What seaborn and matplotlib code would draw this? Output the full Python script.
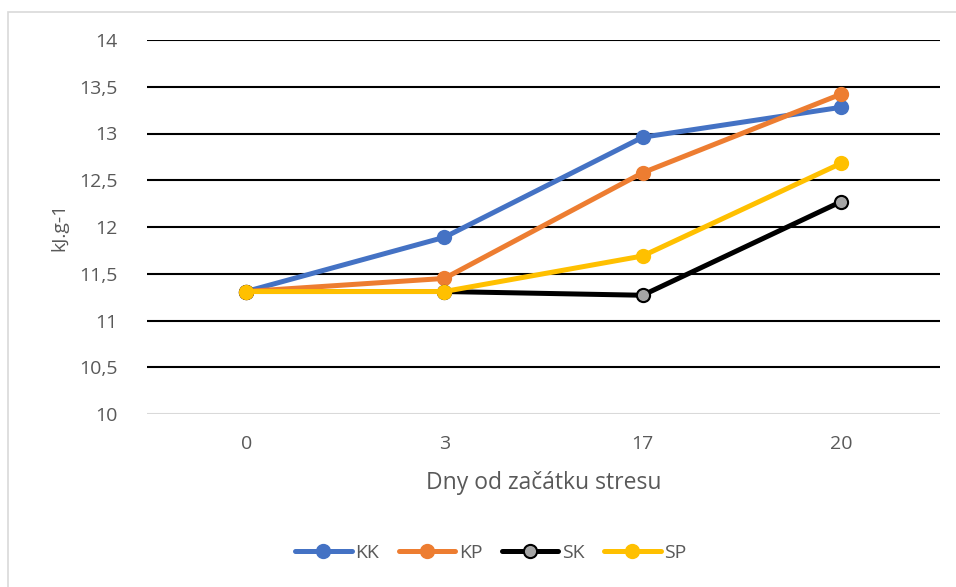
import matplotlib
matplotlib.use("Agg")
import matplotlib.pyplot as plt
from matplotlib.patches import Rectangle
from matplotlib.lines import Line2D
import seaborn as sns
import pandas as pd

days = ["0", "3", "17", "20"]
KK = [11.31, 11.89, 12.96, 13.28]
KP = [11.31, 11.45, 12.58, 13.42]
SK = [11.31, 11.31, 11.27, 12.27]
SP = [11.31, 11.31, 11.69, 12.68]

series = {"KK": KK, "KP": KP, "SK": SK, "SP": SP}
colors = {"KK": "#4472C4", "KP": "#ED7D31", "SK": "#000000", "SP": "#FFC000"}
marker_fill = {"KK": "#4472C4", "KP": "#ED7D31", "SK": "#A5A5A5", "SP": "#FFC000"}

rows = []
for name, vals in series.items():
    for i, v in enumerate(vals):
        rows.append({"pos": i, "day": days[i], "series": name, "value": v})
df = pd.DataFrame(rows)

sns.set_theme(style="white")
plt.rcParams["font.family"] = ["Open Sans", "DejaVu Sans"]

fig = plt.figure(figsize=(9.56, 5.87), dpi=100)
ax = fig.add_axes([147 / 956, 1 - 414 / 587, (940 - 147) / 956, (414 - 40) / 587])

for name in series:
    sub = df[df["series"] == name]
    sns.lineplot(data=sub, x="pos", y="value", ax=ax, color=colors[name],
                 linewidth=3.6, marker="o", markersize=9.5,
                 markerfacecolor=marker_fill[name],
                 markeredgecolor=colors[name],
                 markeredgewidth=1.5,
                 legend=False, zorder=3)

ax.set_xlim(-0.5, 3.5)
ax.set_ylim(10, 14)
ax.set_xticks(range(len(days)))
ax.set_xticklabels(days)
yt = [10 + 0.5 * i for i in range(9)]
ax.set_yticks(yt)
ax.set_yticklabels([f"{v:g}".replace(".", ",") for v in yt])
for v in yt[1:]:
    ax.axhline(v, color="black", linewidth=1.5, zorder=1)
ax.axhline(10, color="#D9D9D9", linewidth=1.5, zorder=1)
for s in ax.spines.values():
    s.set_visible(False)
ax.tick_params(axis="both", length=0, labelsize=14, labelcolor="#595959")
ax.tick_params(axis="y", pad=21)
ax.tick_params(axis="x", pad=15)
ax.set_xlabel("Dny od začátku stresu", fontsize=16.5, color="#595959", labelpad=13)
ax.set_ylabel("kJ.g-1", fontsize=14, color="#595959", labelpad=8)

handles = [Line2D([0], [0], color=colors[n], linewidth=3.6, marker="o", markersize=9.5,
                  markerfacecolor=marker_fill[n], markeredgecolor=colors[n],
                  markeredgewidth=1.5) for n in series]
fig.legend(handles, list(series.keys()), loc="center", bbox_to_anchor=(491 / 956, 1 - 553 / 587),
           ncol=4, frameon=False, fontsize=14, handlelength=2.9, handletextpad=0.2,
           columnspacing=1.0, labelcolor="#595959")

fig.patches.append(Rectangle((8 / 956, -0.05), 1.1, 1 - 11.5 / 587 + 0.05,
                             transform=fig.transFigure, fill=False,
                             edgecolor="#D9D9D9", linewidth=1.2))

fig.savefig("out.png", dpi=100)
